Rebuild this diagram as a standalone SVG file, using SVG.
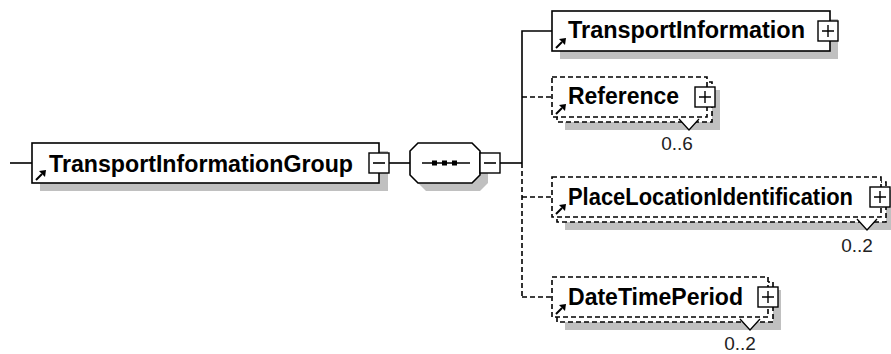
<svg xmlns="http://www.w3.org/2000/svg" width="891" height="354" viewBox="0 0 891 354">
<defs>
<style>
.ln{stroke:#000;stroke-width:1.6;fill:none}
.dl{stroke:#000;stroke-width:1.6;fill:none;stroke-dasharray:5 3}
.box{fill:#fff;stroke:#000;stroke-width:1.6}
.dbox{fill:#fff;stroke:#000;stroke-width:1.6;stroke-dasharray:5 3}
.sh{fill:#c0c0c0}
.pm{fill:#fff;stroke:#000;stroke-width:1.4}
.t{font-family:"Liberation Sans",Arial,sans-serif;font-weight:bold;font-size:23px;fill:#000}
.m{font-family:"Liberation Sans",Arial,sans-serif;font-size:19px;fill:#222}
.v{fill:#fff;stroke:#000;stroke-width:1.3}
</style>
<g id="refArrow">
<line x1="0" y1="0" x2="6" y2="-6" stroke="#000" stroke-width="2"/>
<polygon points="10,-10 3,-9 9,-3" fill="#000"/>
</g>
</defs>

<g id="connectors">
<line class="ln" x1="10" y1="163" x2="32" y2="163"/>
<line class="ln" x1="389" y1="163" x2="410" y2="163"/>
<line class="ln" x1="500" y1="163" x2="522" y2="163"/>
<polyline class="ln" points="552,31 522,31 522,163"/>
<line class="dl" x1="522" y1="163" x2="522" y2="297"/>
<line class="dl" x1="522" y1="97" x2="552" y2="97"/>
<line class="dl" x1="522" y1="197" x2="552" y2="197"/>
<line class="dl" x1="522" y1="297" x2="552" y2="297"/>
</g>

<g id="TransportInformationGroup">
<rect class="sh" x="40" y="151" width="348" height="40"/>
<rect class="box" x="32" y="143" width="347" height="40"/>
<use href="#refArrow" x="36" y="180"/>
<text class="t" x="49" y="172" textLength="304" lengthAdjust="spacingAndGlyphs">TransportInformationGroup</text>
<rect class="pm" x="369" y="153" width="20" height="20"/>
<line class="ln" x1="373" y1="163" x2="385" y2="163" stroke-width="1.4"/>
</g>

<g id="sequence">
<polygon class="sh" points="426,151 480,151 488,159 488,183 480,191 426,191 418,183 418,159"/>
<polygon class="box" points="418,143 472,143 480,151 480,175 472,183 418,183 410,175 410,151"/>
<line class="ln" x1="422" y1="163" x2="470" y2="163"/>
<rect x="432" y="160.5" width="5" height="5" fill="#000"/>
<rect x="442" y="160.5" width="5" height="5" fill="#000"/>
<rect x="452" y="160.5" width="5" height="5" fill="#000"/>
<rect class="pm" x="480" y="153" width="20" height="20"/>
<line class="ln" x1="484" y1="163" x2="496" y2="163" stroke-width="1.4"/>
</g>

<g id="TransportInformation">
<rect class="sh" x="560" y="19" width="278" height="40"/>
<rect class="box" x="552" y="11" width="278" height="40"/>
<use href="#refArrow" x="556" y="48"/>
<text class="t" x="568" y="38" textLength="237" lengthAdjust="spacingAndGlyphs">TransportInformation</text>
<rect class="pm" x="818" y="21" width="20" height="20"/>
<path d="M822 31h12M828 25v12" stroke="#000" stroke-width="1.4"/>
</g>

<g id="Reference">
<rect class="sh" x="565" y="90" width="155" height="40"/>
<rect class="dbox" x="557" y="82" width="155" height="40"/>
<rect class="dbox" x="552" y="77" width="155" height="40"/>
<use href="#refArrow" x="556" y="114"/>
<text class="t" x="568" y="104" textLength="111" lengthAdjust="spacingAndGlyphs">Reference</text>
<rect class="pm" x="695" y="87" width="20" height="20"/>
<path d="M699 97h12M705 91v12" stroke="#000" stroke-width="1.4"/>
<polyline class="v" points="679,119 689,130 699,119"/>
<text class="m" x="677" y="150" text-anchor="middle">0..6</text>
</g>

<g id="PlaceLocationIdentification">
<rect class="sh" x="565" y="190" width="330" height="40"/>
<rect class="dbox" x="557" y="182" width="329" height="40"/>
<rect class="dbox" x="552" y="177" width="329" height="40"/>
<use href="#refArrow" x="556" y="214"/>
<text class="t" x="568" y="205" textLength="285" lengthAdjust="spacingAndGlyphs">PlaceLocationIdentification</text>
<rect class="pm" x="870" y="187" width="20" height="20"/>
<path d="M874 197h12M880 191v12" stroke="#000" stroke-width="1.4"/>
<polyline class="v" points="857,219 867,230 877,219"/>
<text class="m" x="857" y="252" text-anchor="middle">0..2</text>
</g>

<g id="DateTimePeriod">
<rect class="sh" x="565" y="290" width="216" height="40"/>
<rect class="dbox" x="557" y="282" width="216" height="40"/>
<rect class="dbox" x="552" y="277" width="216" height="40"/>
<use href="#refArrow" x="556" y="314"/>
<text class="t" x="568" y="305" textLength="175" lengthAdjust="spacingAndGlyphs">DateTimePeriod</text>
<rect class="pm" x="758" y="287" width="20" height="20"/>
<path d="M762 297h12M768 291v12" stroke="#000" stroke-width="1.4"/>
<polyline class="v" points="740,319 750,330 760,319"/>
<text class="m" x="740" y="350" text-anchor="middle">0..2</text>
</g>
</svg>
